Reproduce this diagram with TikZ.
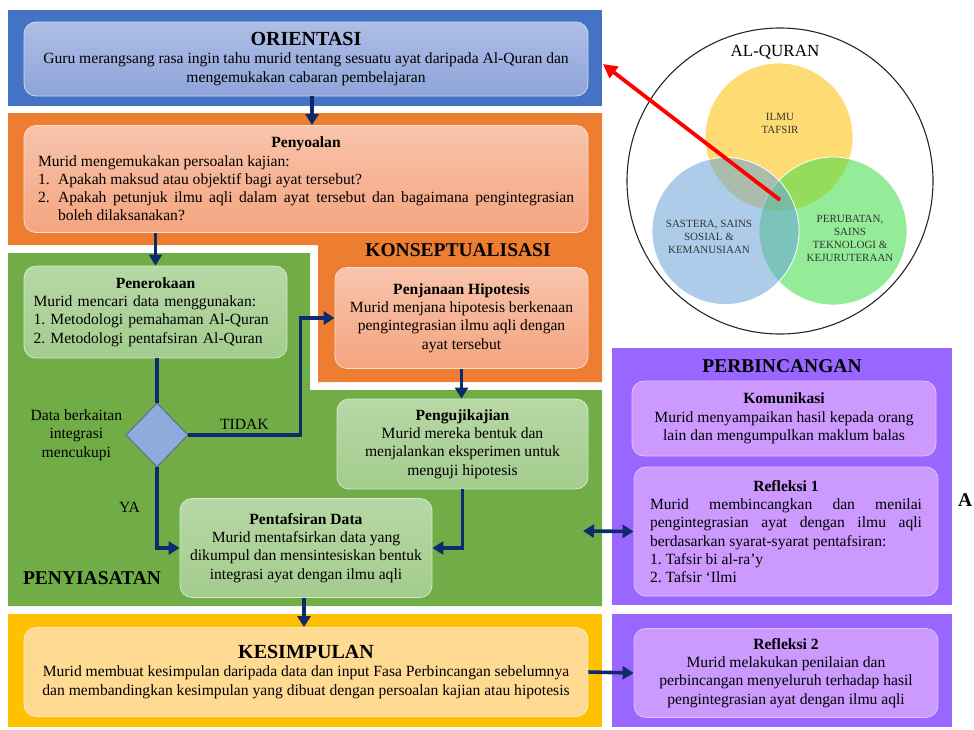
\documentclass[tikz,border=0pt]{standalone}
\usepackage{fontspec}
\setmainfont{Liberation Serif}
\usetikzlibrary{positioning, shapes.geometric, arrows.meta, calc}

\definecolor{oriBlue}{HTML}{4472C4}
\definecolor{oriTop}{HTML}{AEBDE5}
\definecolor{oriBot}{HTML}{8EA5DA}
\definecolor{konOrange}{HTML}{ED7D31}
\definecolor{konTop}{HTML}{F8C4AC}
\definecolor{konBot}{HTML}{F4A47F}
\definecolor{siaGreen}{HTML}{70AD47}
\definecolor{siaTop}{HTML}{B7D8A6}
\definecolor{siaBot}{HTML}{A4CC8E}
\definecolor{simYellow}{HTML}{FFC000}
\definecolor{simLight}{HTML}{FFDA93}
\definecolor{binPurple}{HTML}{9966FF}
\definecolor{binLight}{HTML}{CC99FF}
\definecolor{flowNavy}{HTML}{0D2A6B}
\definecolor{decBlue}{HTML}{8FAADC}
\definecolor{vennYellow}{HTML}{FFBF00}
\definecolor{vennGreen}{HTML}{3CDC43}
\definecolor{vennBlue}{HTML}{69A2D8}

\hyphenpenalty=10000
\exhyphenpenalty=10000
\frenchspacing
\setlength\parindent{0pt}

\newcommand\phasetitle[1]{{\fontsize{20}{22}\selectfont\bfseries #1}}
\newcommand\listline[2]{\hangindent=20pt\hangafter=0\noindent\llap{\makebox[20pt][l]{#1}}#2\par}

\begin{document}
\begin{tikzpicture}[x=1pt, y=-1pt,
    every node/.style={font=\fontsize{15.6}{18.3}\selectfont},
    card/.style={rounded corners=12pt, line width=0.8pt, align=center, inner sep=3pt},
    oricard/.style={card, draw=oriTop!60!white, top color=oriTop, bottom color=oriBot},
    koncard/.style={card, draw=konTop!60!white, top color=konTop, bottom color=konBot},
    siacard/.style={card, draw=siaTop!60!white, top color=siaTop, bottom color=siaBot},
    simcard/.style={card, draw=simLight!60!white, fill=simLight},
    bincard/.style={card, draw=binLight!60!white, fill=binLight},
    phaselabel/.style={font=\fontsize{19.5}{22}\selectfont\bfseries},
    flow/.style={line width=3.6pt, draw=flowNavy, -{Triangle[width=13pt,length=11pt]}},
    venntext/.style={font=\fontsize{11}{13}\selectfont, text=black!80, align=center},
  ]
  \useasboundingbox (0,0) rectangle (974,729);

  % phase frames
  \fill[oriBlue] (8,10) rectangle (602,106);
  \fill[konOrange] (8,113) -- (602,113) -- (602,382) -- (318,382) -- (318,245) -- (8,245) -- cycle;
  \fill[siaGreen] (8,253) -- (310,253) -- (310,390) -- (602,390) -- (602,606) -- (8,606) -- cycle;
  \fill[simYellow] (8,614) rectangle (602,727);
  \fill[binPurple] (612,348) rectangle (952,605);
  \fill[binPurple] (612,614) rectangle (952,727);

  % ORIENTASI
  \node[oricard, minimum width=564pt, minimum height=74pt] (oriBox) at (306,59)
    {\phasetitle{ORIENTASI}\\
     Guru merangsang rasa ingin tahu murid tentang sesuatu ayat daripada Al-Quran dan\\
     mengemukakan cabaran pembelajaran};

  % KONSEPTUALISASI
  \node[koncard, align=justify, text width=536pt, minimum width=564pt, minimum height=107pt] (soalBox) at (306,179)
    {{\centering\textbf{Penyoalan}\par}
     Murid mengemukakan persoalan kajian:\par
     \listline{1.}{Apakah maksud atau objektif bagi ayat tersebut?}
     \listline{2.}{Apakah petunjuk ilmu aqli dalam ayat tersebut dan bagaimana pengintegrasian\linebreak boleh dilaksanakan?}};
  \node[phaselabel] (konLabel) at (458,250) {KONSEPTUALISASI};
  \node[koncard, minimum width=253pt, minimum height=101pt] (janaBox) at (461.5,318)
    {\textbf{Penjanaan Hipotesis}\\
     Murid menjana hipotesis berkenaan\\
     pengintegrasian ilmu aqli dengan\\
     ayat tersebut};

  % PENYIASATAN
  \node[siacard, align=left, text width=244pt, minimum width=263pt, minimum height=92pt] (terokaBox) at (155.5,312)
    {{\centering\textbf{Penerokaan}\par}
     Murid mencari data menggunakan:\par
     1. Metodologi pemahaman Al-Quran\par
     2. Metodologi pentafsiran Al-Quran};
  \node[diamond, draw=decBlue!60!black, fill=decBlue, line width=0.8pt, minimum width=62pt, minimum height=64pt, inner sep=0pt] (dataDec) at (157,435) {};
  \node[left=0pt of dataDec, align=center] (dataLabel) {Data berkaitan\\integrasi\\mencukupi};
  \node[siacard, minimum width=251pt, minimum height=90pt] (ujiBox) at (462.5,444)
    {\textbf{Pengujikajian}\\
     Murid mereka bentuk dan\\
     menjalankan eksperimen untuk\\
     menguji hipotesis};
  \node[siacard, minimum width=252pt, minimum height=99pt] (tafsirBox) at (306,548)
    {\textbf{Pentafsiran Data}\\
     Murid mentafsirkan data yang\\
     dikumpul dan mensintesiskan bentuk\\
     integrasi ayat dengan ilmu aqli};
  \node[phaselabel] (siaLabel) at (92,578) {PENYIASATAN};

  % KESIMPULAN
  \node[simcard, minimum width=564pt, minimum height=89pt] (simpulBox) at (306,672)
    {\phasetitle{KESIMPULAN}\\
     Murid membuat kesimpulan daripada data dan input Fasa Perbincangan sebelumnya\\
     dan membandingkan kesimpulan yang dibuat dengan persoalan kajian atau hipotesis};

  % PERBINCANGAN
  \node[phaselabel] (binLabel) at (782,366) {PERBINCANGAN};
  \node[bincard, minimum width=304pt, minimum height=75pt] (komBox) at (784,418.5)
    {\textbf{Komunikasi}\\
     Murid menyampaikan hasil kepada orang\\
     lain dan mengumpulkan maklum balas};
  \node[bincard, align=justify, text width=272pt, minimum width=304pt, minimum height=129pt] (ref1Box) at (786,531.5)
    {{\centering\textbf{Refleksi 1}\par}
     Murid membincangkan dan menilai\linebreak
     pengintegrasian ayat dengan ilmu aqli\linebreak
     berdasarkan syarat-syarat pentafsiran:\par
     1. Tafsir bi al-ra’y\par
     2. Tafsir ‘Ilmi};
  \node[bincard, minimum width=304pt, minimum height=89pt] (ref2Box) at (786,673)
    {\textbf{Refleksi 2}\\
     Murid melakukan penilaian dan\\
     perbincangan menyeluruh terhadap hasil\\
     pengintegrasian ayat dengan ilmu aqli};
  \node[phaselabel, anchor=west, inner sep=0pt] (strayA) at (958,500) {A};

  % flow arrows
  \draw[flow] ([xshift=6pt]oriBox.south) -- ([xshift=6pt]soalBox.north);
  \draw[flow] (terokaBox.north |- soalBox.south) -- (terokaBox.north);
  \draw[line width=3.6pt, flowNavy] (dataDec.north |- terokaBox.south) -- (dataDec.north);
  \draw[flow] (dataDec.east) -- node[above] (tidakLabel) {TIDAK} ++(112,0) |- (janaBox.west);
  \draw[flow] (dataDec.south) |- node[pos=0.25, left=12pt] (yaLabel) {YA} (tafsirBox.west);
  \draw[flow] (janaBox.south) -- (janaBox.south |- ujiBox.north);
  \draw[flow] (ujiBox.south) |- (tafsirBox.east);
  \draw[flow] ([xshift=-2pt]tafsirBox.south) -- ([xshift=-2pt]simpulBox.north);
  \coordinate (siaEdge) at (583,531);
  \draw[flow, {Triangle[width=13pt,length=11pt]}-{Triangle[width=13pt,length=11pt]}] (siaEdge) -- (ref1Box.west);
  \draw[flow] (simpulBox.east) -- (ref2Box.west);

  % AL-QURAN venn
  \draw[black!85, line width=1.1pt] (780,181) circle (153pt);
  \filldraw[fill=vennYellow, fill opacity=0.55, draw=white, line width=0.8pt] (779,137) circle (74pt);
  \filldraw[fill=vennGreen, fill opacity=0.55, draw=white, line width=0.8pt] (833,231) circle (74pt);
  \filldraw[fill=vennBlue, fill opacity=0.55, draw=white, line width=0.8pt] (725.5,231) circle (73.5pt);
  \node[font=\fontsize{17}{20}\selectfont] (quranLabel) at (775,52) {AL-QURAN};
  \node[venntext] (ilmuLabel) at (780,123) {ILMU\\TAFSIR};
  \node[venntext] (sasteraLabel) at (709,237) {SASTERA, SAINS\\SOSIAL \&\\KEMANUSIAAN};
  \node[venntext] (perubatanLabel) at (850,238) {PERUBATAN,\\SAINS\\TEKNOLOGI \&\\KEJURUTERAAN};

  % link to ORIENTASI
  \coordinate (vennCore) at (780,200);
  \coordinate (oriTip) at (603,64);
  \draw[red, line width=3.8pt, -{Triangle[width=14pt,length=14pt]}] (vennCore) -- (oriTip);
\end{tikzpicture}
\end{document}
